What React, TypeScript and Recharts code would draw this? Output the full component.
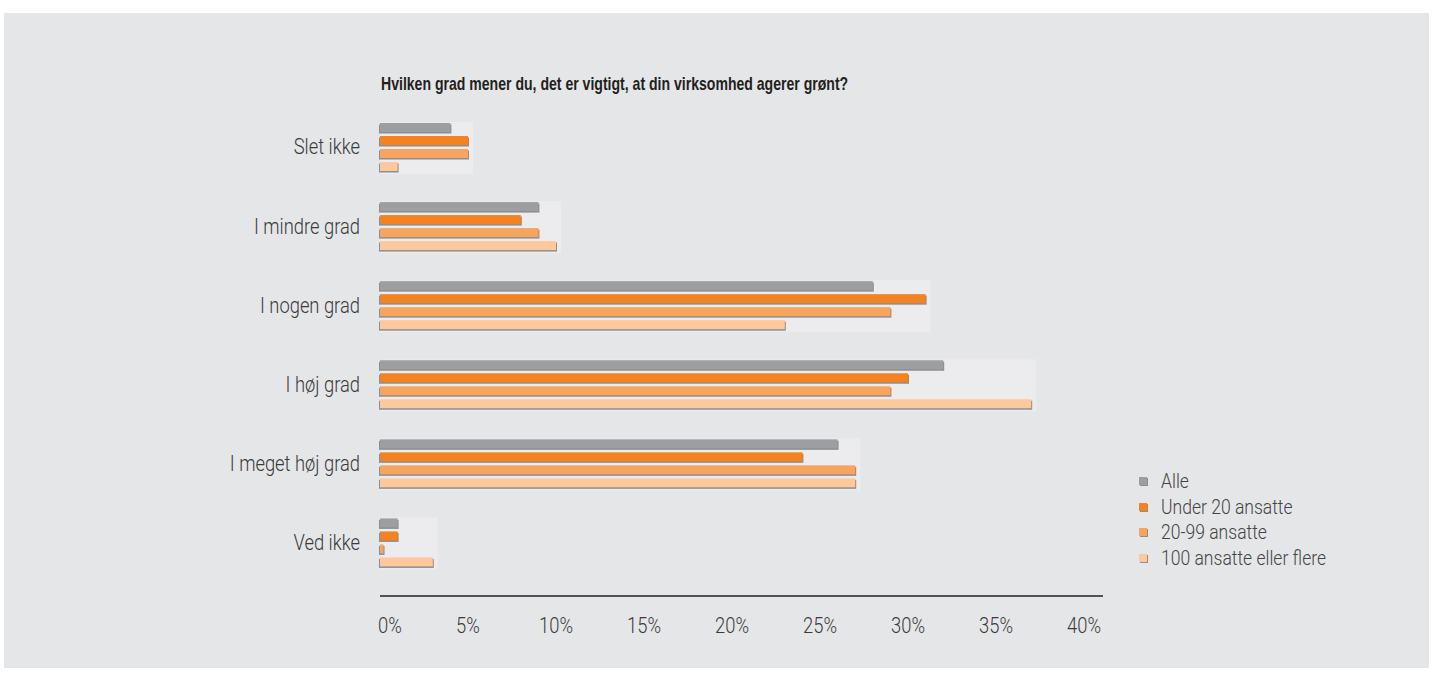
import React from "react";
import { BarChart, Bar, XAxis, YAxis } from "recharts";

const categories = ["Slet ikke", "I mindre grad", "I nogen grad", "I høj grad", "I meget høj grad", "Ved ikke"];
const alle = [4, 9, 28, 32, 26, 1];
const under20 = [5, 8, 31, 30, 24, 1];
const mellem = [5, 9, 29, 29, 27, 0.2];
const stor = [1, 10, 23, 37, 27, 3];

const xTicks = [0, 5, 10, 15, 20, 25, 30, 35, 40];
const seriesKeys = ["alle", "under20", "mellem", "stor"];
const seriesNames = ["Alle", "Under 20 ansatte", "20-99 ansatte", "100 ansatte eller flere"];
const seriesColors = ["#9d9ea1", "#f58220", "#f7a45f", "#fdc89c"];

const title = "Hvilken grad mener du, det er vigtigt, at din virksomhed agerer grønt?";

const data = categories.map((kategori, i) => ({
  kategori,
  alle: alle[i],
  under20: under20[i],
  mellem: mellem[i],
  stor: stor[i],
}));

// no condensed font installed, so squeeze a light one horizontally
const FONT = "Roboto, 'Liberation Sans', sans-serif";
const SQUEEZE = 0.835;
const TEXT = "#3a3a3a";

const BarShape = (props: any) => {
  const { x, y, width, height, fill } = props;
  if (!width || width <= 0) return null;
  return (
    <g>
      <rect x={x - 1} y={y + 1.5} width={width + 2} height={height} fill="#8d8e91" />
      <rect x={x} y={y} width={width} height={height} fill={fill} />
    </g>
  );
};

// first series also paints the pale panel behind the whole group
const AlleShape = (props: any) => {
  const { x, y, width, payload } = props;
  const max = Math.max(payload.alle, payload.under20, payload.mellem, payload.stor);
  const unit = width / payload.alle;
  return (
    <g>
      <rect x={x} y={y - 1} width={max * unit + 5} height={52} fill="#ececee" />
      <BarShape {...props} />
    </g>
  );
};

const PctTick = (props: any) => {
  const { x, y, payload } = props;
  const first = payload.value === 0;
  return (
    <text
      transform={`translate(${first ? x - 2 : x},${y + 37}) scale(${SQUEEZE},1)`}
      textAnchor={first ? "start" : "middle"}
      fill={TEXT}
      fontSize={22}
      fontWeight={300}
      fontFamily={FONT}
    >
      {payload.value}%
    </text>
  );
};

const CatTick = (props: any) => {
  const { x, y, payload } = props;
  return (
    <text
      transform={`translate(${x},${y}) scale(${SQUEEZE},1)`}
      dy="0.36em"
      textAnchor="end"
      fill={TEXT}
      fontSize={22}
      fontWeight={300}
      fontFamily={FONT}
    >
      {payload.value}
    </text>
  );
};

function SeriesLegend() {
  return (
    <div
      style={{
        position: "absolute",
        left: 1139,
        top: 468,
        fontFamily: FONT,
        fontWeight: 300,
        fontSize: 21,
        color: "#444",
      }}
    >
      {seriesNames.map((name, i) => (
        <div key={name} style={{ display: "flex", alignItems: "center", height: 25.7 }}>
          <span
            style={{
              display: "inline-block",
              width: 8,
              height: 8,
              background: seriesColors[i],
              boxShadow: "1px 1px 0 #8d8e91",
              marginRight: 14,
            }}
          />
          <span
            style={{
              display: "inline-block",
              whiteSpace: "nowrap",
              transform: `scaleX(${SQUEEZE})`,
              transformOrigin: "left center",
            }}
          >
            {name}
          </span>
        </div>
      ))}
    </div>
  );
}

export default function App() {
  return (
    <div style={{ position: "relative", width: 1433, height: 683 }}>
      <style>{"body{margin:0}"}</style>
      <div
        style={{
          position: "absolute",
          left: 4,
          top: 13,
          width: 1425,
          height: 655,
          background: "#e5e6e8",
        }}
      />
      <div
        style={{
          position: "absolute",
          left: 381,
          top: 73,
          fontFamily: "'Liberation Sans', Arial, sans-serif",
          fontWeight: "bold",
          fontSize: 18.5,
          color: "#231f20",
          whiteSpace: "nowrap",
          transform: "scaleX(0.76)",
          transformOrigin: "left center",
        }}
      >
        {title}
      </div>
      <div style={{ position: "absolute", left: 0, top: 0 }}>
        <BarChart
          width={1433}
          height={683}
          data={data}
          layout="vertical"
          barGap={4}
          margin={{ top: 107, right: 330, bottom: 47, left: 0 }}
        >
          <XAxis
            type="number"
            domain={[0, 41.08]}
            ticks={xTicks}
            interval={0}
            axisLine={{ stroke: "#231f20", strokeWidth: 1.3 }}
            tickLine={false}
            tickSize={0}
            tickMargin={0}
            height={40}
            tick={<PctTick />}
          />
          <YAxis
            type="category"
            dataKey="kategori"
            width={380}
            axisLine={false}
            tickLine={false}
            tickSize={0}
            tickMargin={20}
            padding={{ top: 0, bottom: 14.5 }}
            tick={<CatTick />}
          />
          {seriesKeys.map((key, i) => (
            <Bar
              key={key}
              dataKey={key}
              name={seriesNames[i]}
              fill={seriesColors[i]}
              barSize={9}
              shape={i === 0 ? AlleShape : BarShape}
              isAnimationActive={false}
            />
          ))}
        </BarChart>
      </div>
      <SeriesLegend />
    </div>
  );
}
